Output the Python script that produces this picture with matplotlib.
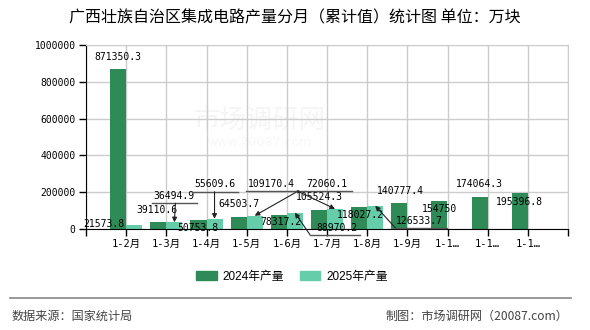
import matplotlib
matplotlib.use("Agg")
import matplotlib.pyplot as plt
from matplotlib.transforms import IdentityTransform
import numpy as np

months = ["1-2月", "1-3月", "1-4月", "1-5月", "1-6月", "1-7月", "1-8月", "1-9月", "1-1…", "1-1…", "1-1…"]
prod_2024 = [871350.3, 39110.6, 50753.8, 64503.7, 78317.2, 105524.3, 118027.2, 140777.4, 154750, 174064.3, 195396.8]
prod_2025 = [21573.8, 36494.9, 55609.6, 72060.1, 88970.2, 109170.4, 126533.7]
yticks = [0, 200000, 400000, 600000, 800000, 1000000]

# label offsets from bar top, in pixels (dx, dy up)
off_2024 = [(0, 12), (-1, 12), (-1, -8), (0, 13), (2, -7), (0, 13), (1, -8), (1, 12), (0, -8), (0, 13), (0, -9)]
# (text offset, (underline x1, x2, y, arrow start x)) for 2025 labels
off_2025 = [
    ((-30, 1), None),
    ((0, 26), (-22, 23, 19, 1)),
    ((0, 35), (-23, 23, 27, 0)),
    ((72, 32), (42, 97, 25, 44)),
    ((42, -15), (15, 65, -22, 15)),
    ((-64, 25), (-89, -38, 18, -38)),
    ((44, -15), (20, 72, -22, 20)),
]

c24 = "#2e8b57"
c25 = "#66cdaa"
cjk = ["Noto Sans CJK SC", "DejaVu Sans"]
mono = ["DejaVu Sans Mono", "Noto Sans CJK SC"]


def fmt(v):
    return ("%.1f" % v).rstrip("0").rstrip(".")


W, H = 590, 330
fig = plt.figure(figsize=(5.9, 3.3), dpi=100)
ax = fig.add_axes([86 / W, 1 - 229 / H, (568 - 86) / W, (229 - 45) / H])
ax.set_xlim(-1, 11)
ax.set_ylim(0, 1000000)

x = np.arange(len(months))
x25 = np.arange(len(prod_2025))
ax.bar(x - 0.2, prod_2024, width=0.4, color=c24, zorder=2)
ax.bar(x25 + 0.2, prod_2025, width=0.4, color=c25, zorder=2)

ax.set_xticks(np.arange(-1, 12))
ax.set_xticklabels([""] + months + [""], fontfamily=mono, fontsize=7.5)
ax.set_yticks(yticks)
ax.set_yticklabels([str(t) for t in yticks], fontfamily="DejaVu Sans Mono", fontsize=7)
ax.tick_params(axis="both", length=5, width=1, color="black", pad=2.5)
ax.grid(True, color="#cccccc", lw=1)
ax.set_axisbelow(True)
for s in ["top", "right"]:
    ax.spines[s].set_color("#cccccc")
for s in ["left", "bottom"]:
    ax.spines[s].set_color("black")

# faint watermark
ax.text(0.36, 0.59, "市场调研网", transform=ax.transAxes, fontfamily=cjk, fontsize=19,
        color="#f5f5f5", ha="center", va="center", zorder=0)
ax.text(0.36, 0.47, "www.20087.com", transform=ax.transAxes, fontsize=9,
        color="#f7f7f7", ha="center", va="center", zorder=0)

# labels for 2024
for i, v in enumerate(prod_2024):
    dx, dy = off_2024[i]
    ax.annotate(fmt(v), xy=(i - 0.2, v), xytext=(dx, dy), textcoords="offset pixels",
                ha="center", va="center", fontfamily="DejaVu Sans Mono", fontsize=7,
                annotation_clip=False, zorder=5)

# labels for 2025, some with leader lines
for i, v in enumerate(prod_2025):
    (dx, dy), lead = off_2025[i]
    bx = i + 0.2
    ax.annotate(fmt(v), xy=(bx, v), xytext=(dx, dy), textcoords="offset pixels",
                ha="center", va="center", fontfamily="DejaVu Sans Mono", fontsize=7,
                annotation_clip=False, zorder=5)
    if lead is None:
        continue
    x1, x2, uy, sx = lead
    p = ax.transData.transform((bx, v))
    ax.plot([p[0] + x1, p[0] + x2], [p[1] + uy, p[1] + uy], transform=IdentityTransform(),
            color="#555555", lw=1, clip_on=False, zorder=5)
    ax.annotate("", xy=(bx, v), xytext=(sx, uy), textcoords="offset pixels",
                arrowprops=dict(arrowstyle="-|>", color="#222222", lw=0.8,
                                shrinkA=0, shrinkB=0, mutation_scale=7),
                annotation_clip=False, zorder=5)

fig.text(295 / W, 1 - 18 / H, "广西壮族自治区集成电路产量分月（累计值）统计图 单位：万块",
         fontfamily=cjk, fontsize=11.5, ha="center", va="center")

handles = [plt.Rectangle((0, 0), 1, 1, color=c24), plt.Rectangle((0, 0), 1, 1, color=c25)]
fig.legend(handles, ["2024年产量", "2025年产量"], loc="center",
           bbox_to_anchor=(292 / W, 1 - 277 / H), ncol=2, frameon=False,
           prop={"family": ["Liberation Sans", "Noto Sans CJK SC"], "size": 8.5},
           handlelength=1.75, handleheight=0.8, handletextpad=0.5, columnspacing=1.3)

fig.add_artist(plt.Line2D([10 / W, 571 / W], [1 - 298 / H, 1 - 298 / H], color="#888888", lw=1.2))
fig.text(12 / W, 1 - 316 / H, "数据来源：国家统计局", fontfamily=cjk, fontsize=8.7,
         color="#444444", ha="left", va="center")
fig.text(568 / W, 1 - 316 / H, "制图：市场调研网（20087.com）", fontfamily=cjk, fontsize=8.7,
         color="#444444", ha="right", va="center")

fig.savefig("out.png", dpi=100)
